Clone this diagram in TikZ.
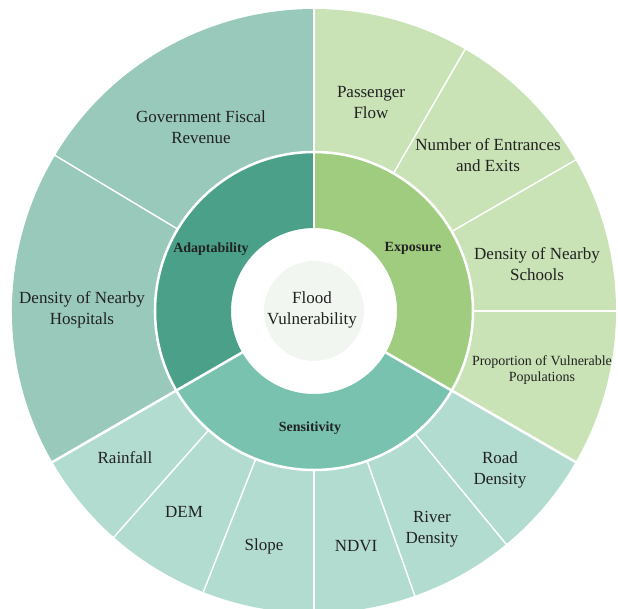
\documentclass[tikz,border=0pt]{standalone}
\usepackage{fontspec}
\setmainfont{Liberation Serif}
\definecolor{adaptdark}{HTML}{4AA089}
\definecolor{expodark}{HTML}{A0CC7F}
\definecolor{sensdark}{HTML}{79C2AF}
\definecolor{adaptlight}{HTML}{98C9BB}
\definecolor{expolight}{HTML}{C9E2B6}
\definecolor{senslight}{HTML}{B3DCD1}
\definecolor{floodcore}{HTML}{F1F7F0}
\definecolor{ink}{HTML}{222222}
\begin{document}
\begin{tikzpicture}[x=0.75pt,y=0.75pt,
    leaf/.style={align=center,text=ink,font=\fontsize{12.75}{15.75}\selectfont},
    smallleaf/.style={align=center,text=ink,font=\fontsize{10.5}{12.5}\selectfont},
    branch/.style={align=center,text=ink,font=\bfseries\fontsize{10.5}{12}\selectfont},
    thinsep/.style={white,line width=1.1pt},
    thicksep/.style={white,line width=1.9pt}]
    \tikzstyle{every node}+=[inner sep=0pt]
    \useasboundingbox (-314,-297) rectangle (304,311);
    \fill [adaptdark] (90:83) arc (90:210:83) -- (210:159) arc (210:90:159) -- cycle;
    \fill [expodark] (-30:83) arc (-30:90:83) -- (90:159) arc (90:-30:159) -- cycle;
    \fill [sensdark] (210:83) arc (210:330:83) -- (330:159) arc (330:210:159) -- cycle;
    \fill [adaptlight] (90:159) arc (90:210:159) -- (210:302) arc (210:90:302) -- cycle;
    \fill [expolight] (-30:159) arc (-30:90:159) -- (90:302) arc (90:-30:302) -- cycle;
    \fill [senslight] (210:159) arc (210:330:159) -- (330:302) arc (330:210:302) -- cycle;
    \fill [floodcore] (0,0) circle (50);
    \draw [thicksep] (0,0) circle (159);
    \draw [thicksep] (90:80) -- (90:306);
    \draw [thicksep] (-30:80) -- (-30:306);
    \draw [thicksep] (210:80) -- (210:306);
    \draw [thinsep] (149:159) -- (149:306);
    \draw [thinsep] (60:159) -- (60:306);
    \draw [thinsep] (30:159) -- (30:306);
    \draw [thinsep] (0:159) -- (0:306);
    \draw [thinsep] (-50.5:159) -- (-50.5:306);
    \draw [thinsep] (-70.5:159) -- (-70.5:306);
    \draw [thinsep] (-90:159) -- (-90:306);
    \draw [thinsep] (-111.5:159) -- (-111.5:306);
    \draw [thinsep] (-131.5:159) -- (-131.5:306);
    \node [leaf] (flood) at (-2,1) {Flood\\Vulnerability};
    \node [branch] (adapt) at (-103,62) {Adaptability};
    \node [branch] (expo) at (99,63) {Exposure};
    \node [branch] (sens) at (-4,-117) {Sensitivity};
    \node [leaf] (revenue) at (-113,184) {Government Fiscal\\Revenue};
    \node [leaf] (hospitals) at (-232,1) {Density of Nearby\\Hospitals};
    \node [leaf] (passenger) at (57,208) {Passenger\\Flow};
    \node [leaf] (entrances) at (174,156) {Number of Entrances\\and Exits};
    \node [leaf] (schools) at (223,47) {Density of Nearby\\Schools};
    \node [smallleaf] (proportion) at (228,-59) {Proportion of Vulnerable\\Populations};
    \node [leaf] (road) at (186,-159) {Road\\Density};
    \node [leaf] (river) at (118,-218) {River\\Density};
    \node [leaf] (ndvi) at (42,-235) {NDVI};
    \node [leaf] (slope) at (-50,-235) {Slope};
    \node [leaf] (dem) at (-130,-201) {DEM};
    \node [leaf] (rainfall) at (-189,-147) {Rainfall};
\end{tikzpicture}
\end{document}
